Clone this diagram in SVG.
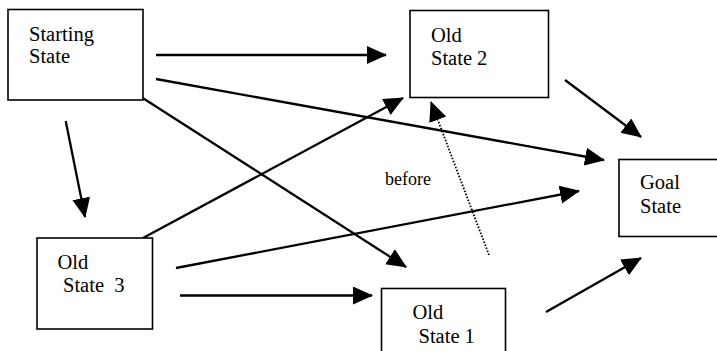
<svg xmlns="http://www.w3.org/2000/svg" width="717" height="351" viewBox="0 0 717 351">
  <style>
    .box { fill: #fff; stroke: #000; stroke-width: 1.6; }
    .lbl { font-family: 'Liberation Serif', 'DejaVu Serif', serif; font-size: 20.5px; fill: #000; white-space: pre; }
    .small { font-size: 18px; }
    .arr { stroke: #000; stroke-width: 2.3; fill: none; marker-end: url(#head); }
    .dot { stroke: #000; stroke-width: 1.8; stroke-dasharray: 1.6 1.6; fill: none; marker-end: url(#head); }
  </style>
  <defs>
    <marker id="head" markerUnits="userSpaceOnUse" markerWidth="21" markerHeight="19" refX="19" refY="9" orient="auto" viewBox="0 0 21 19">
      <path d="M0,0 L20,9 L0,18 Z" fill="#000"/>
    </marker>
  </defs>
  <rect width="717" height="351" fill="#fff"/>

  <g id="connectors">
    <line class="arr" x1="156" y1="55" x2="386" y2="55"/>
    <line class="arr" x1="156" y1="79" x2="604" y2="160"/>
    <line class="arr" x1="138" y1="95" x2="406" y2="267"/>
    <line class="arr" x1="65.7" y1="121" x2="85" y2="217"/>
    <line class="arr" x1="143" y1="238" x2="403" y2="98"/>
    <line class="arr" x1="176" y1="268" x2="579" y2="191"/>
    <line class="arr" x1="180" y1="295.5" x2="372" y2="295.5"/>
    <line class="arr" x1="565" y1="80" x2="641" y2="137"/>
    <line class="arr" x1="546" y1="312" x2="641" y2="258"/>
    <line class="dot" x1="489" y1="255" x2="431" y2="102"/>
  </g>

  <g id="starting-state">
    <rect class="box" x="8" y="9.5" width="135" height="90.5"/>
    <text class="lbl" font-family="Liberation Serif, serif" x="29" y="41">Starting</text>
    <text class="lbl" font-family="Liberation Serif, serif" x="29" y="63">State</text>
  </g>

  <g id="old-state-2">
    <rect class="box" x="410" y="10.5" width="138.5" height="87"/>
    <text class="lbl" font-family="Liberation Serif, serif" x="431" y="41.5">Old</text>
    <text class="lbl" font-family="Liberation Serif, serif" x="431" y="65">State 2</text>
  </g>

  <g id="goal-state">
    <rect class="box" x="619" y="159.5" width="110" height="77"/>
    <text class="lbl" font-family="Liberation Serif, serif" x="640" y="189">Goal</text>
    <text class="lbl" font-family="Liberation Serif, serif" x="640" y="213">State</text>
  </g>

  <g id="old-state-3">
    <rect class="box" x="37" y="238" width="115.5" height="91"/>
    <text class="lbl" font-family="Liberation Serif, serif" x="57.5" y="269">Old</text>
    <text class="lbl" font-family="Liberation Serif, serif" x="63" y="292">State  3</text>
  </g>

  <g id="old-state-1">
    <rect class="box" x="381.5" y="288.5" width="124" height="80"/>
    <text class="lbl" font-family="Liberation Serif, serif" x="412.5" y="319">Old</text>
    <text class="lbl" font-family="Liberation Serif, serif" x="418.5" y="343">State 1</text>
  </g>

  <g id="before-label">
    <text class="lbl small" font-family="Liberation Serif, serif" x="385" y="185">before</text>
  </g>
</svg>
